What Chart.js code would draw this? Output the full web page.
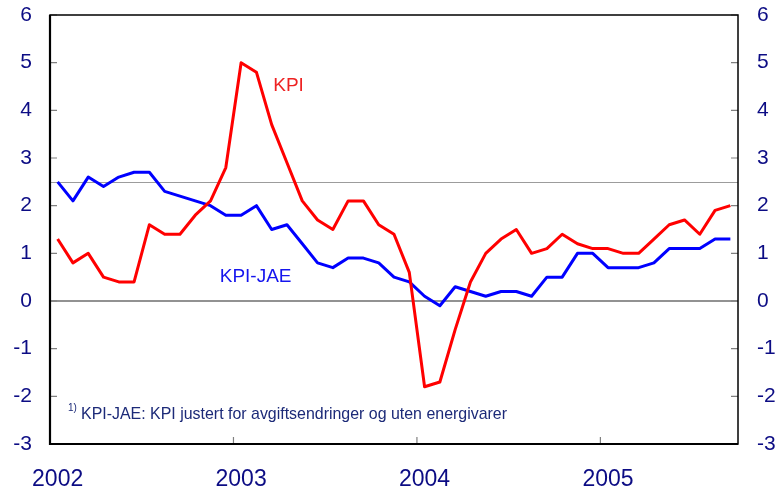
<!DOCTYPE html>
<html>
<head>
<meta charset="utf-8">
<script src="https://cdn.jsdelivr.net/npm/chart.js@4"></script>
<style>
  html, body { margin: 0; padding: 0; background: #fff; }
  #wrap { width: 779px; height: 495px; }
</style>
</head>
<body>
<div id="wrap"><canvas id="chart"></canvas></div>
<script>
/* ===============================
   DATA (monthly, Jan 2002 - Sep 2005)
================================ */
const yearLabels = ["2002", "2003", "2004", "2005"];

const kpi = [
  1.3, 0.8, 1.0, 0.5, 0.4, 0.4, 1.6, 1.4, 1.4, 1.8, 2.1, 2.8,
  5.0, 4.8, 3.7, 2.9, 2.1, 1.7, 1.5, 2.1, 2.1, 1.6, 1.4, 0.6,
  -1.8, -1.7, -0.6, 0.4, 1.0, 1.3, 1.5, 1.0, 1.1, 1.4, 1.2, 1.1,
  1.1, 1.0, 1.0, 1.3, 1.6, 1.7, 1.4, 1.9, 2.0
];

const kpiJae = [
  2.5, 2.1, 2.6, 2.4, 2.6, 2.7, 2.7, 2.3, 2.2, 2.1, 2.0, 1.8,
  1.8, 2.0, 1.5, 1.6, 1.2, 0.8, 0.7, 0.9, 0.9, 0.8, 0.5, 0.4,
  0.1, -0.1, 0.3, 0.2, 0.1, 0.2, 0.2, 0.1, 0.5, 0.5, 1.0, 1.0,
  0.7, 0.7, 0.7, 0.8, 1.1, 1.1, 1.1, 1.3, 1.3
];

const yTicks = [-3, -2, -1, 0, 1, 2, 3, 4, 5, 6];
const refLevel = 2.5;
const footnote = "KPI-JAE: KPI justert for avgiftsendringer og uten energivarer";

/* -------------------------------
   Styles
-------------------------------- */
const NAVY = "#0c0c84";
const FONT = "'Liberation Sans', Arial, sans-serif";

const toPoints = arr => arr.map((v, i) => ({ x: i, y: v }));

// fixed box sizes so the plot area lands where the original one is
const fitY = w => s => { s.width = w; s.paddingTop = 0; s.paddingBottom = 0; };

/* -------------------------------
   Frame, tick marks, text labels
-------------------------------- */
const framePlugin = {
  id: "frame",
  beforeDatasetsDraw(chart) {
    const { ctx, chartArea: a, scales } = chart;
    const y = scales.y, x = scales.x;
    ctx.save();

    // 2.5 reference line
    let py = Math.round(y.getPixelForValue(refLevel)) + 0.5;
    ctx.strokeStyle = "#9c9c9c";
    ctx.lineWidth = 1;
    ctx.beginPath(); ctx.moveTo(a.left, py); ctx.lineTo(a.right, py); ctx.stroke();

    // zero line
    py = y.getPixelForValue(0);
    ctx.strokeStyle = "#6e6e6e";
    ctx.lineWidth = 1.5;
    ctx.beginPath(); ctx.moveTo(a.left, py); ctx.lineTo(a.right, py); ctx.stroke();

    // inner tick marks
    ctx.strokeStyle = "#808080";
    ctx.lineWidth = 1.2;
    yTicks.forEach(t => {
      const p = y.getPixelForValue(t);
      ctx.beginPath();
      ctx.moveTo(a.left, p); ctx.lineTo(a.left + 7, p);
      ctx.moveTo(a.right, p); ctx.lineTo(a.right - 7, p);
      ctx.stroke();
    });
    yearLabels.forEach((yr, i) => {
      if (i === 0) return;
      const p = x.getPixelForValue(i * 12 - 0.5);
      ctx.beginPath(); ctx.moveTo(p, a.bottom); ctx.lineTo(p, a.bottom - 7); ctx.stroke();
    });
    ctx.restore();
  },
  afterDatasetsDraw(chart) {
    const { ctx, chartArea: a, scales } = chart;
    const y = scales.y, x = scales.x;
    ctx.save();

    // plot border
    ctx.strokeStyle = "#000";
    ctx.lineWidth = 1.5;
    ctx.strokeRect(a.left, a.top, a.right - a.left, a.bottom - a.top);
    ctx.lineWidth = 2.2;
    ctx.beginPath(); ctx.moveTo(a.left, a.top); ctx.lineTo(a.left, a.bottom); ctx.lineTo(a.right, a.bottom); ctx.stroke();

    // series labels
    ctx.textBaseline = "alphabetic";
    ctx.font = "19px " + FONT;
    ctx.fillStyle = "#ee2222";
    ctx.fillText("KPI", x.getPixelForValue(14.1), y.getPixelForValue(4.4));
    ctx.fillStyle = "#1515ee";
    ctx.fillText("KPI-JAE", x.getPixelForValue(10.6), y.getPixelForValue(0.4));

    // footnote
    ctx.fillStyle = "#1c2a78";
    ctx.font = "10px " + FONT;
    ctx.fillText("1)", a.left + 18, y.getPixelForValue(-2.3));
    ctx.font = "17px " + FONT;
    const w = ctx.measureText(footnote).width;
    const fx = a.left + 31, fy = y.getPixelForValue(-2.47);
    ctx.translate(fx, fy);
    ctx.scale(426 / w, 1);
    ctx.fillText(footnote, 0, 0);
    ctx.restore();
  }
};

/* -------------------------------
   Chart
-------------------------------- */
new Chart(document.getElementById("chart"), {
  type: "line",
  data: {
    datasets: [
      {
        label: "KPI",
        data: toPoints(kpi),
        borderColor: "#ff0000",
        borderWidth: 3,
        pointRadius: 0,
        borderJoinStyle: "round",
        tension: 0
      },
      {
        label: "KPI-JAE",
        data: toPoints(kpiJae),
        borderColor: "#0000ff",
        borderWidth: 3,
        pointRadius: 0,
        borderJoinStyle: "round",
        tension: 0
      }
    ]
  },
  options: {
    responsive: true,
    maintainAspectRatio: false,
    animation: false,
    layout: { padding: { top: 15, left: 0, right: 0, bottom: 0 } },
    plugins: {
      legend: { display: false },
      tooltip: { enabled: false }
    },
    scales: {
      x: {
        type: "linear",
        min: -0.5,
        max: 44.5,
        afterBuildTicks: s => { s.ticks = yearLabels.map((yr, i) => ({ value: i * 12 })); },
        afterFit: s => { s.height = 51; s.paddingLeft = 0; s.paddingRight = 0; },
        ticks: {
          autoSkip: false,
          maxRotation: 0,
          color: NAVY,
          padding: 22,
          font: { family: FONT, size: 23 },
          callback: (v, i) => yearLabels[i]
        },
        grid: { display: false, drawTicks: false },
        border: { display: false }
      },
      y: {
        position: "left",
        min: -3,
        max: 6,
        afterBuildTicks: s => { s.ticks = yTicks.map(v => ({ value: v })); },
        afterFit: fitY(50),
        ticks: {
          color: NAVY,
          padding: 18,
          font: { family: FONT, size: 21 }
        },
        grid: { display: false, drawTicks: false },
        border: { display: false }
      },
      y2: {
        position: "right",
        min: -3,
        max: 6,
        afterBuildTicks: s => { s.ticks = yTicks.map(v => ({ value: v })); },
        afterFit: fitY(41),
        ticks: {
          color: NAVY,
          padding: 19,
          font: { family: FONT, size: 21 }
        },
        grid: { display: false, drawTicks: false },
        border: { display: false }
      }
    }
  },
  plugins: [framePlugin]
});
</script>
</body>
</html>
